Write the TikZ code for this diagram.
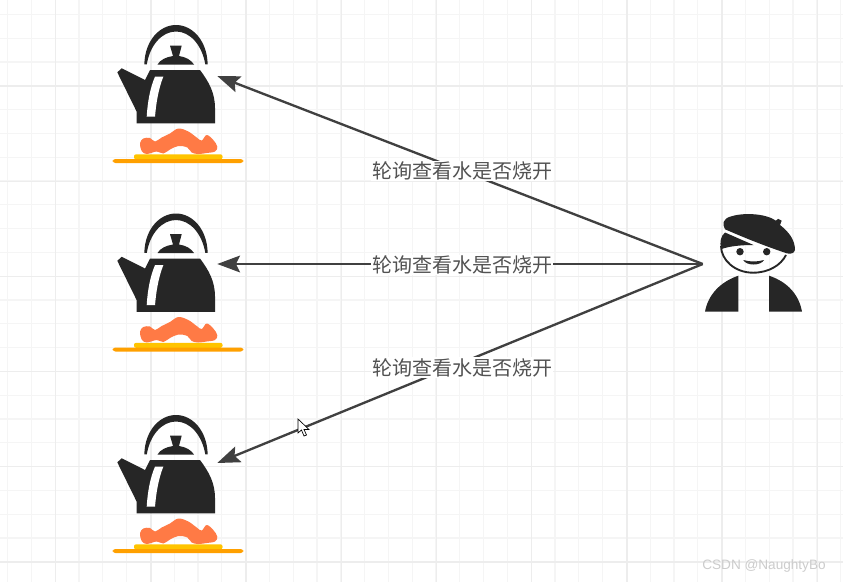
\documentclass[tikz,border=0pt]{standalone}
\usepackage{fontspec}
\newfontfamily\cjkfont{Noto Sans CJK SC}
\setsansfont{Liberation Sans}
\usetikzlibrary{arrows.meta}
\definecolor{inkdark}{HTML}{262626}
\definecolor{flameorange}{HTML}{FF7A45}
\definecolor{plateyellow}{HTML}{FFC400}
\definecolor{plateorange}{HTML}{FFA000}
\tikzset{
  gridminor/.style={draw=black!4, line width=0.9pt},
  gridmajor/.style={draw=black!7, line width=1pt},
  iconbox/.style={inner sep=0pt, minimum width=75pt, minimum height=75pt},
  pollline/.style={draw=black!75, line width=1.75pt, -{Stealth[length=17pt, width=12.5pt, inset=3pt]}},
  polllabel/.style={fill=white, text=black!68, inner sep=0.8pt, xshift=1.5pt, yshift=-0.7pt, font=\cjkfont\fontsize{15pt}{17pt}\selectfont},
  pics/kettle/.style={code={
    % handle
    \fill[inkdark] (144.3,64.3) .. controls (145,40) and (160,25) .. (176,25)
      .. controls (192,25) and (207,40) .. (207.7,64.3) -- (205.3,64.3)
      .. controls (202,45) and (190,31.5) .. (176,31.5)
      .. controls (162,31.5) and (150,45) .. (146.8,64.3) -- cycle;
    % lid
    \fill[inkdark] (170,45.7) -- (181.7,45.7) -- (179,56) .. controls (186,57) and (191,60) .. (194,64.5)
      -- (157.5,64.5) .. controls (160,60) and (166,57) .. (173,56) -- cycle;
    % body and spout
    \fill[inkdark] (150,70) -- (200,70) .. controls (209,82) and (215,93) .. (215,108)
      -- (215,123.3) -- (136.7,123.3) -- (136.7,111.7) -- (117.3,72.3) -- (121.7,68.3) -- (145,80) -- cycle;
    \fill[white] (155,76.7) -- (163.3,76.7) .. controls (158,90) and (156,105) .. (155,116.7)
      -- (146.7,116.7) .. controls (147.5,103) and (150,88) .. (155,76.7) -- cycle;
    % flame and plate
    \fill[flameorange] plot[smooth cycle, tension=0.6] coordinates {
      (140,143.3) (143.3,138.5) (150,138) (155,141.5) (161.7,137.5) (170,133.5) (178.3,128.5)
      (188.3,131.5) (196.7,137.5) (201.7,140.5) (206.7,135) (213.3,140) (217.3,146.7) (215,151.5)
      (206.7,153) (198.3,154) (191.7,152.5) (187.3,147.5) (178.3,146) (170,149.5) (163.3,153.5)
      (156.7,151.5) (146.7,154) (141.7,151)};
    \fill[plateyellow, rounded corners=1.5pt] (134,154.3) rectangle (222.5,159.3);
    \fill[plateorange, rounded corners=2pt] (112.7,159) rectangle (243.3,163);
  }},
  pics/painter/.style={code={
    % beret
    \fill[inkdark] (725,229.3) .. controls (722,224) and (723,219) .. (730,216.7)
      .. controls (742,212.5) and (765,213) .. (776,220.7) -- (778,218.8) -- (781.7,220.7) -- (780,225)
      .. controls (789,232) and (795,240) .. (795,250)
      .. controls (794,254) and (790,254) .. (786.7,253.3) .. controls (765,246) and (745,238) .. (725,229.3) -- cycle;
    % hair
    \fill[inkdark] (725,232.5) -- (753.5,245) .. controls (742,245) and (730,246) .. (721.5,249)
      .. controls (719,242) and (721,236) .. (725,232.5) -- cycle;
    % face
    \draw[inkdark, line width=1.4pt] (721,246) .. controls (721,260) and (735,272.7) .. (753,272.7)
      .. controls (769,272.7) and (781,265) .. (786,255);
    \fill[inkdark] (740,251.7) circle (3.7) (766.7,251.7) circle (3.7);
    \fill[inkdark] (743.3,260) .. controls (750,262) and (757,262) .. (764,260)
      .. controls (761,266) and (746,266) .. (743.3,260) -- cycle;
    % shoulders
    \fill[inkdark] (705,311.7) -- (738.3,311.7) -- (738.3,275.7) .. controls (720,282) and (708,295) .. (705,311.7) -- cycle;
    \fill[inkdark] (769,311.7) -- (802,311.7) .. controls (799,295) and (788,282) .. (769,275.7) -- cycle;
  }}
}
\begin{document}
\begin{tikzpicture}[x=0.75pt, y=-0.75pt]
  \useasboundingbox (0,0) rectangle (843,582);
  \fill[white] (0,0) rectangle (843,582);

  % Grid
  \foreach \i in {0,...,35} {
    \draw[gridminor] ({7.5+23.8*\i},0) -- ({7.5+23.8*\i},582);
  }
  \foreach \i in {0,...,24} {
    \draw[gridminor] (0,{14.3+23.8*\i}) -- (843,{14.3+23.8*\i});
  }
  \foreach \i in {0,...,8} {
    \draw[gridmajor] ({55.7+95.2*\i},0) -- ({55.7+95.2*\i},582);
  }
  \foreach \i in {0,...,5} {
    \draw[gridmajor] (0,{86+95.2*\i}) -- (843,{86+95.2*\i});
  }

  % Kettles
  \pic at (0,0) {kettle};
  \pic at (0,188.5) {kettle};
  \pic at (0,390) {kettle};
  \node[iconbox] (kettleA) at (167,76) {};
  \node[iconbox] (kettleB) at (167,264) {};
  \node[iconbox] (kettleC) at (167,463) {};

  % Person
  \pic at (0,0) {painter};
  \node[iconbox] (person) at (753,264) {};

  % Connectors
  \draw[pollline] (person.west) -- node[polllabel] (labelA) {轮询查看水是否烧开} (kettleA.east);
  \draw[pollline] (person.west) -- node[polllabel] (labelB) {轮询查看水是否烧开} (kettleB.east);
  \draw[pollline] (person.west) -- node[polllabel, yshift=-2.5pt] (labelC) {轮询查看水是否烧开} (kettleC.east);

  % Mouse pointer
  \draw[fill=white, draw=black, line width=0.5pt] (298,419) -- (298,433) -- (301.5,430) -- (304,436)
    -- (306.5,435) -- (304,429.5) -- (309,429.5) -- cycle;

  % Watermark
  \node[text=black!20, inner sep=0pt, font=\sffamily\fontsize{10.2pt}{12pt}\selectfont] (mark) at (764,566) {CSDN @NaughtyBo};
\end{tikzpicture}
\end{document}
